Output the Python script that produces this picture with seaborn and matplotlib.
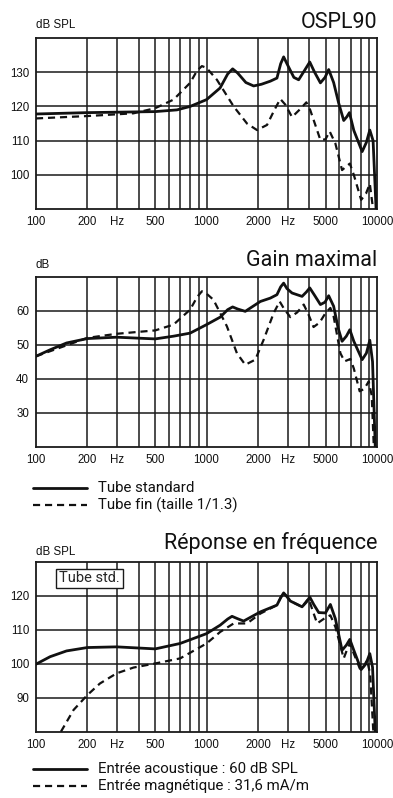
import numpy as np
import pandas as pd
import matplotlib
matplotlib.use("Agg")
import matplotlib.pyplot as plt
import seaborn as sns
from matplotlib import font_manager
from matplotlib.lines import Line2D
from matplotlib.ticker import FixedLocator, NullLocator

# OSPL90 (dB SPL)
ospl_std_f = [100, 200, 500, 670, 800, 1000, 1200, 1330, 1422, 1520, 1700, 1888, 2100, 2366, 2586, 2720, 2831,
              2960, 3250, 3467, 3750, 4027, 4300, 4650, 4950, 5200, 5560, 5950, 6370, 6650, 6880, 7300,
              8170, 8650, 9060, 9470, 9900]
ospl_std_v = [117.8, 118.2, 118.5, 119, 120, 122, 125.4, 129.5, 131, 129.8, 127, 126, 126.5, 127.4, 128.3, 132.5, 134.5,
              132.5, 128.5, 127.8, 130.5, 133, 130, 126.9, 128.5, 130.8, 127, 121, 115.9, 117, 118.2, 113,
              106.8, 109.5, 113.1, 110, 88]
ospl_fin_f = [100, 200, 373, 500, 640, 801, 880, 939, 1000, 1150, 1442, 1727, 1976, 2262, 2500, 2706,
              2900, 3170, 3500, 3847, 4050, 4240, 4650, 4980, 5270, 5690, 6230, 6600, 6920, 7300, 8060,
              8600, 9060, 9470, 9700]
ospl_fin_v = [116.5, 117.2, 118, 119.5, 122, 126.9, 130.5, 131.8, 131.3, 127.8, 120, 115, 113.1, 114.6, 119, 122.2,
              120.5, 116.9, 119, 121.2, 119, 116.1, 110.2, 110.4, 112.7, 109.2, 101.4, 102.5, 103.3, 100, 92.7,
              94.5, 97.4, 90, 85]

# Gain maximal (dB)
gain_std_f = [100, 121, 151, 200, 297, 500, 640, 801, 1000, 1202, 1330, 1422, 1520, 1686, 2066, 2366, 2586, 2720,
              2831, 2960, 3170, 3630, 3850, 4027, 4300, 4650, 4950, 5200, 5560, 5900, 6230, 6600, 6920, 7300,
              8170, 8650, 9060, 9400, 9750]
gain_std_v = [46.6, 48.5, 50.5, 51.8, 52.2, 51.7, 52.5, 53.4, 55.9, 58.1, 60.3, 61.1, 60.5, 59.8, 62.7, 63.7, 64.7, 67,
              68.1, 66.5, 65.2, 64.2, 65.5, 66.7, 64.5, 61.8, 62.5, 64.4, 61.3, 55, 51, 52.5, 54.4, 51,
              45.6, 47.5, 51.3, 45, 20]
gain_fin_f = [100, 200, 297, 500, 640, 801, 880, 939, 1000, 1098, 1316, 1506, 1686, 1932, 2163, 2474, 2684,
              2850, 3100, 3400, 3713, 3950, 4240, 4600, 4980, 5320, 5560, 6090, 6440, 6970, 7300, 7900,
              8400, 8930, 9300, 9560]
gain_fin_v = [46.6, 52, 53.2, 54.2, 55.9, 60.3, 64, 65.7, 65, 63.2, 55.4, 47.5, 44.1, 45.6, 51.5, 59.3, 62.7,
              60.5, 58.1, 59.5, 61.8, 59, 55.2, 56.5, 59.3, 60.8, 58.3, 47.5, 45.1, 45.8, 43, 36.3,
              37, 39.2, 35, 20]

# Réponse en fréquence (dB SPL)
resp_ac_f = [100, 121, 151, 200, 297, 500, 700, 1000, 1202, 1330, 1410, 1520, 1649, 2066, 2586, 2720, 2831, 2960,
             3100, 3630, 3850, 4027, 4250, 4548, 4980, 5320, 5690, 6230, 6600, 6920, 7300, 8060, 8600, 9060,
             9400, 9750]
resp_ac_v = [99.9, 102.1, 103.8, 104.8, 105, 104.4, 106, 108.9, 111.4, 113.2, 114, 113.3, 112.6, 115.3, 117.3, 119.5,
             120.9, 119.8, 118.5, 116.8, 118.2, 119.7, 117.5, 115.1, 115, 117.5, 113.3, 104, 105.5, 107.2, 104, 98.3,
             100, 103, 99, 80]
resp_mag_f = [140, 166, 200, 237, 297, 373, 500, 700, 1000, 1202, 1442, 1727, 2066, 2586, 2720, 2831, 2960,
              3100, 3630, 3850, 3970, 4200, 4450, 4980, 5320, 5690, 6370, 6700, 6920, 7300, 7990, 8400, 8730,
              9100, 9500]
resp_mag_v = [80, 86.4, 90.8, 94.2, 97.2, 98.9, 100.1, 101.6, 106, 109.4, 111.9, 111.9, 114.8, 117.3, 119.5,
              120.9, 119.8, 118.5, 116.8, 118.5, 119.2, 115.5, 111.9, 113.6, 114.3, 110.9, 101.6, 104.5, 106, 103, 98.1,
              99.5, 101.1, 97, 80]

x_ticks = [100, 200, 300, 500, 1000, 2000, 3000, 5000, 10000]
x_labels = ["100", "200", "Hz", "500", "1000", "2000", "Hz", "5000", "10000"]
grid_freqs = [200, 300, 400, 500, 600, 700, 800, 900, 1000, 2000, 3000, 4000, 5000, 6000, 7000, 8000, 9000]

sns.set_style("white")

# narrow font for the axis numbers if present, else a smaller regular one
try:
    font_manager.findfont("Liberation Sans Narrow", fallback_to_default=False)
    num_font, num_size = "Liberation Sans Narrow", 10
except ValueError:
    num_font, num_size = "Liberation Sans", 8.3
plt.rcParams["font.family"] = [num_font, "DejaVu Sans"]
label_font = ["Roboto", "DejaVu Sans"]

fig = plt.figure(figsize=(3.93, 7.98), dpi=100)

panels = [
    dict(rect=[0.0916, 0.738, 0.868, 0.2143], ylim=(90, 140), yticks=[100, 110, 120, 130],
         solid=(ospl_std_f, ospl_std_v), dashed=(ospl_fin_f, ospl_fin_v),
         title="OSPL90", unit="dB SPL", ty=0.9724, uy=0.9687),
    dict(rect=[0.0916, 0.4402, 0.868, 0.2131], ylim=(20, 70), yticks=[30, 40, 50, 60],
         solid=(gain_std_f, gain_std_v), dashed=(gain_fin_f, gain_fin_v),
         title="Gain maximal", unit="dB", ty=0.674, uy=0.668),
    dict(rect=[0.0916, 0.0831, 0.868, 0.2126], ylim=(80, 130), yticks=[90, 100, 110, 120],
         solid=(resp_ac_f, resp_ac_v), dashed=(resp_mag_f, resp_mag_v),
         title="Réponse en fréquence", unit="dB SPL", ty=0.3195, uy=0.308),
]

grid_c = "#1a1a1a"
dash = (0, (3.2, 2.2))
axes = []
for p in panels:
    ax = fig.add_axes(p["rect"])
    ax.set_xscale("log")
    ax.set_xlim(100, 10000)
    ax.set_ylim(*p["ylim"])
    for g in grid_freqs:
        ax.axvline(g, color=grid_c, lw=1.1, zorder=1)
    for g in p["yticks"]:
        ax.axhline(g, color=grid_c, lw=1.1, zorder=1)
    sns.lineplot(x=p["solid"][0], y=p["solid"][1], ax=ax, color="#111111", lw=2.0, zorder=3)
    sns.lineplot(x=p["dashed"][0], y=p["dashed"][1], ax=ax, color="#111111", lw=1.6,
                 linestyle=dash, zorder=3)
    ax.xaxis.set_major_locator(FixedLocator(x_ticks))
    ax.xaxis.set_minor_locator(NullLocator())
    ax.set_xticklabels(x_labels)
    ax.set_yticks(p["yticks"])
    ax.tick_params(axis="both", length=0, labelsize=num_size, colors="#111111", pad=5)
    for s in ax.spines.values():
        s.set_color(grid_c)
        s.set_linewidth(1.3)
        s.set_visible(True)
    ax.set_xlabel("")
    ax.set_ylabel("")
    fig.text(0.959, p["ty"], p["title"], ha="right", va="center", fontsize=15.5,
             family=label_font, color="#111111")
    fig.text(0.0916, p["uy"], p["unit"], ha="left", va="center", fontsize=num_size, color="#111111")
    axes.append(ax)

axes[2].text(0.157, 0.903, "Tube std.", transform=axes[2].transAxes, ha="center", va="center",
             fontsize=10.5, family=label_font, zorder=5,
             bbox=dict(boxstyle="square,pad=0.2", fc="white", ec=grid_c, lw=1.0))

legends = [
    (0.3885, 0.3672, "Tube standard", "Tube fin (taille 1/1.3)"),
    (0.0363, 0.0150, "Entrée acoustique : 60 dB SPL", "Entrée magnétique : 31,6 mA/m"),
]
for y1, y2, l1, l2 in legends:
    fig.add_artist(Line2D([0.084, 0.221], [y1, y1], transform=fig.transFigure, color="#111111", lw=2.0))
    fig.add_artist(Line2D([0.084, 0.221], [y2, y2], transform=fig.transFigure, color="#111111", lw=1.6,
                          linestyle=dash))
    fig.text(0.249, y1, l1, ha="left", va="center", fontsize=10.8, family=label_font, color="#111111")
    fig.text(0.249, y2, l2, ha="left", va="center", fontsize=10.8, family=label_font, color="#111111")

fig.savefig("out.png", dpi=100)
